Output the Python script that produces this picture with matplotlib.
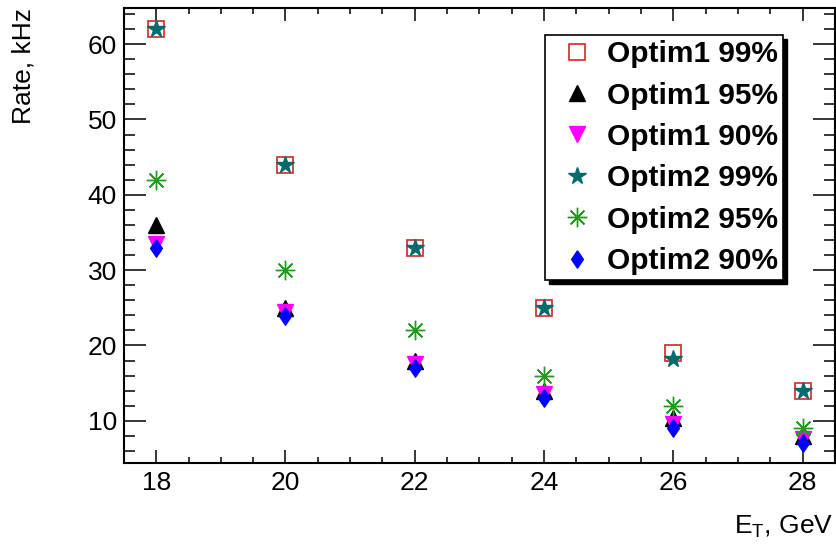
import matplotlib
matplotlib.use("Agg")
import matplotlib.pyplot as plt
from matplotlib.patches import Rectangle
from matplotlib.ticker import MultipleLocator

plt.rcParams["font.family"] = ["Liberation Sans", "DejaVu Sans"]
plt.rcParams["mathtext.fontset"] = "custom"
plt.rcParams["mathtext.rm"] = "Liberation Sans"

# -----------------------------------------------------------------------------
# Data
# -----------------------------------------------------------------------------
et = [18, 20, 22, 24, 26, 28]
optim1_99 = [62, 44, 33, 25, 19, 14]
optim1_95 = [36, 25, 18, 14, 10.4, 8]
optim1_90 = [33.5, 24.5, 17.6, 13.6, 9.6, 7.6]
optim2_99 = [62, 44, 33, 25, 18.2, 14]
optim2_95 = [42, 30, 22, 16, 12, 9]
optim2_90 = [32.9, 23.9, 17, 13, 9, 7]

# wider diamond than matplotlib's "d"
diamond = [(0, 1), (0.68, 0), (0, -1), (-0.68, 0), (0, 1)]

fig = plt.figure(figsize=(8.37, 5.45), dpi=100)
ax = fig.add_axes([0.148, 0.1505, 0.8496, 0.8348])

ax.plot(et, optim1_99, ls="none", marker="s", ms=11, mfc="none", mec="#d02828",
        mew=1.2, label="Optim1 99%")
ax.plot(et, optim1_95, ls="none", marker="^", ms=12, color="black",
        label="Optim1 95%")
ax.plot(et, optim1_90, ls="none", marker="v", ms=12, color="#ff00ff",
        label="Optim1 90%")
ax.plot(et, optim2_99, ls="none", marker="*", ms=13, color="#006b6b",
        label="Optim2 99%")
ax.plot(et, optim2_95, ls="none", marker=(8, 2, 0), ms=14, color="#1c9e1c",
        mew=1.0, label="Optim2 95%")
ax.plot(et, optim2_95, ls="none", marker="o", ms=2.5, color="#1c9e1c")
ax.plot(et, optim2_90, ls="none", marker=diamond, ms=12.5, color="#0000ff",
        label="Optim2 90%")

ax.set_xlim(17.5, 28.5)
ax.set_ylim(4.4, 64.8)
ax.xaxis.set_major_locator(MultipleLocator(2))
ax.xaxis.set_minor_locator(MultipleLocator(0.5))
ax.yaxis.set_major_locator(MultipleLocator(10))
ax.yaxis.set_minor_locator(MultipleLocator(2))

ax.tick_params(which="both", direction="in", top=True, right=True,
               labelsize=19, width=1.1)
ax.tick_params(axis="y", which="major", length=16, pad=5)
ax.tick_params(axis="y", which="minor", length=8)
ax.tick_params(axis="x", which="major", length=9.5, pad=6)
ax.tick_params(axis="x", which="minor", length=4.5)
for sp in ax.spines.values():
    sp.set_linewidth(1.5)

ax.set_xlabel(r"E$_{\mathregular{T}}$, GeV", fontsize=19, loc="right")
ax.xaxis.set_label_coords(0.997, -0.112)
ax.set_ylabel("Rate, kHz", fontsize=19, loc="top")
ax.yaxis.set_label_coords(-0.124, 1.0)

leg = ax.legend(loc="upper left", bbox_to_anchor=(0.592, 0.9407),
                prop={"weight": "bold", "size": 21.5}, frameon=True, fancybox=False,
                edgecolor="black", framealpha=1, handlelength=1.8,
                handletextpad=0.12, labelspacing=0.45, borderpad=0.17,
                borderaxespad=0, numpoints=1)
leg.get_frame().set_linewidth(1.2)
leg.set_zorder(10)

# black drop shadow behind the legend box
fig.canvas.draw()
bb = leg.get_window_extent().transformed(fig.transFigure.inverted())
shadow = Rectangle((bb.x0 + 4 / 837, bb.y0 - 4 / 545), bb.width, bb.height,
                   transform=fig.transFigure, color="black", zorder=9)
ax.add_artist(shadow)
shadow.set_clip_on(False)

fig.savefig("out.png", dpi=100)
